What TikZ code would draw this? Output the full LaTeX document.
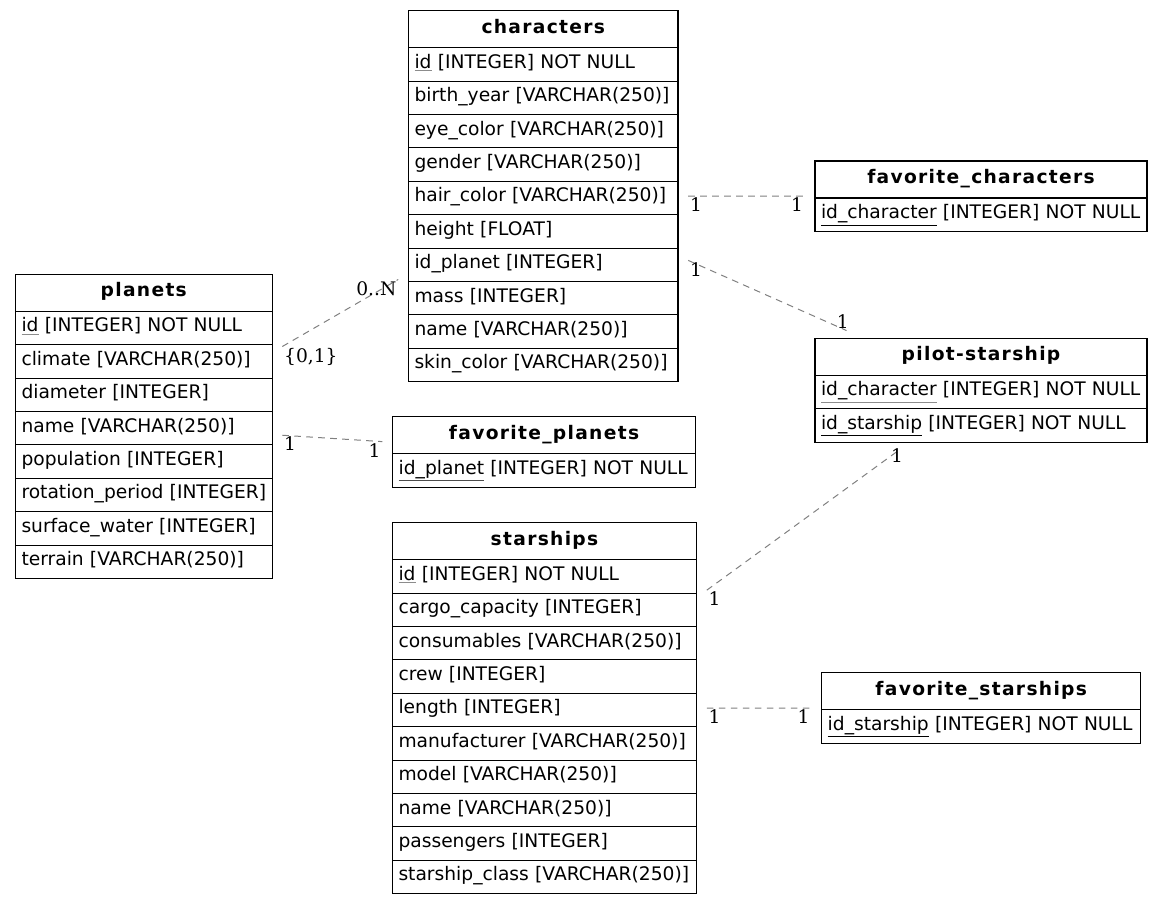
\documentclass[tikz,border=0pt]{standalone}
\usepackage{fontspec}
\setmainfont{DejaVu Sans}
\newfontfamily\headfont[LetterSpace=7]{DejaVu Sans}
\newfontfamily\cardfont{DejaVu Serif}
\usetikzlibrary{positioning,fit}
\definecolor{relgray}{rgb}{0.50,0.50,0.50}
\newcommand{\pkey}[2][black!45]{{\color{#1}\underline{\color{black}#2}}}
\tikzset{
  thead/.style={draw, line width=0.8pt, outer sep=0pt, inner xsep=4.5pt, inner ysep=0pt,
                text width=#1, align=center, minimum height=27.75pt,
                text height=10.5pt, text depth=4.3pt, font=\headfont\fontsize{14}{17}\selectfont\bfseries},
  trow/.style={draw, line width=0.8pt, outer sep=0pt, inner xsep=4.5pt, inner ysep=0pt,
               text width=#1, align=left, minimum height=25.05pt,
               text height=10.5pt, text depth=4.6pt, font=\fontsize{14}{17}\selectfont},
  tblfit/.style={inner xsep=7.5pt, inner ysep=5.6pt},
  rel/.style={draw=relgray, line width=0.75pt, dash pattern=on 5pt off 4pt},
  card/.style={font=\cardfont\fontsize{14}{17}\selectfont, inner sep=1pt},
}

\begin{document}
\begin{tikzpicture}[x=0.75pt, y=-0.75pt]
  \useasboundingbox (0,0) rectangle (1163,904);
  % characters
  \node[thead=193.1pt, anchor=north west] (chr-h) at (408.5,10.7) {characters};
  \node[trow=193.1pt, below=0pt of chr-h] (chr-1) {\pkey{id} [INTEGER] NOT NULL};
  \node[trow=193.1pt, below=0pt of chr-1] (chr-2) {birth\_year [VARCHAR(250)]};
  \node[trow=193.1pt, below=0pt of chr-2] (chr-3) {eye\_color [VARCHAR(250)]};
  \node[trow=193.1pt, below=0pt of chr-3] (chr-4) {gender [VARCHAR(250)]};
  \node[trow=193.1pt, below=0pt of chr-4] (chr-5) {hair\_color [VARCHAR(250)]};
  \node[trow=193.1pt, below=0pt of chr-5] (chr-6) {height [FLOAT]};
  \node[trow=193.1pt, below=0pt of chr-6] (chr-7) {id\_planet [INTEGER]};
  \node[trow=193.1pt, below=0pt of chr-7] (chr-8) {mass [INTEGER]};
  \node[trow=193.1pt, below=0pt of chr-8] (chr-9) {name [VARCHAR(250)]};
  \node[trow=193.1pt, below=0pt of chr-9] (chr-10) {skin\_color [VARCHAR(250)]};
  \node[tblfit, fit=(chr-h)(chr-10)] (characters) {};
  % planets
  \node[thead=183.4pt, anchor=north west] (pln-h) at (15.5,274.3) {planets};
  \node[trow=183.4pt, below=0pt of pln-h] (pln-1) {\pkey{id} [INTEGER] NOT NULL};
  \node[trow=183.4pt, below=0pt of pln-1] (pln-2) {climate [VARCHAR(250)]};
  \node[trow=183.4pt, below=0pt of pln-2] (pln-3) {diameter [INTEGER]};
  \node[trow=183.4pt, below=0pt of pln-3] (pln-4) {name [VARCHAR(250)]};
  \node[trow=183.4pt, below=0pt of pln-4] (pln-5) {population [INTEGER]};
  \node[trow=183.4pt, below=0pt of pln-5] (pln-6) {\mbox{rotation\_period [INTEGER]}};
  \node[trow=183.4pt, below=0pt of pln-6] (pln-7) {surface\_water [INTEGER]};
  \node[trow=183.4pt, below=0pt of pln-7] (pln-8) {terrain [VARCHAR(250)]};
  \node[tblfit, fit=(pln-h)(pln-8)] (planets) {};
  % favorite_characters
  \node[thead=240pt, anchor=north west] (fch-h) at (815,161) {favorite\_characters};
  \node[trow=240pt, below=0pt of fch-h] (fch-1) {\pkey[black]{id\_character} [INTEGER] NOT NULL};
  \node[tblfit, fit=(fch-h)(fch-1)] (favchars) {};
  % pilot-starship
  \node[thead=240pt, anchor=north west] (pil-h) at (815,338.3) {pilot-starship};
  \node[trow=240pt, below=0pt of pil-h] (pil-1) {\pkey{id\_character} [INTEGER] NOT NULL};
  \node[trow=240pt, below=0pt of pil-1] (pil-2) {\pkey[black]{id\_starship} [INTEGER] NOT NULL};
  \node[tblfit, fit=(pil-h)(pil-2)] (pilot) {};
  % favorite_planets
  \node[thead=218pt, anchor=north west] (fpl-h) at (392.7,416.7) {favorite\_planets};
  \node[trow=218pt, below=0pt of fpl-h] (fpl-1) {\pkey[black!70]{id\_planet} [INTEGER] NOT NULL};
  \node[tblfit, fit=(fpl-h)(fpl-1)] (favplanets) {};
  % starships
  \node[thead=219pt, anchor=north west] (shp-h) at (392.5,522.7) {starships};
  \node[trow=219pt, below=0pt of shp-h] (shp-1) {\pkey{id} [INTEGER] NOT NULL};
  \node[trow=219pt, below=0pt of shp-1] (shp-2) {cargo\_capacity [INTEGER]};
  \node[trow=219pt, below=0pt of shp-2] (shp-3) {consumables [VARCHAR(250)]};
  \node[trow=219pt, below=0pt of shp-3] (shp-4) {crew [INTEGER]};
  \node[trow=219pt, below=0pt of shp-4] (shp-5) {length [INTEGER]};
  \node[trow=219pt, below=0pt of shp-5] (shp-6) {manufacturer [VARCHAR(250)]};
  \node[trow=219pt, below=0pt of shp-6] (shp-7) {model [VARCHAR(250)]};
  \node[trow=219pt, below=0pt of shp-7] (shp-8) {name [VARCHAR(250)]};
  \node[trow=219pt, below=0pt of shp-8] (shp-9) {passengers [INTEGER]};
  \node[trow=219pt, below=0pt of shp-9] (shp-10) {starship\_class [VARCHAR(250)]};
  \node[tblfit, fit=(shp-h)(shp-10)] (starships) {};
  % favorite_starships
  \node[thead=230.3pt, anchor=north west] (fsh-h) at (821.7,672.7) {favorite\_starships};
  \node[trow=230.3pt, below=0pt of fsh-h] (fsh-1) {\pkey[black]{id\_starship} [INTEGER] NOT NULL};
  \node[tblfit, fit=(fsh-h)(fsh-1)] (favstarships) {};
  % relations
  \draw[rel] (planets) -- (characters)
    node[card, pos=0, anchor=north west] {\{0,1\}} node[card, pos=1, anchor=north east] {0..N};
  \draw[rel] (characters) -- (favchars)
    node[card, pos=0, anchor=north west] {1} node[card, pos=1, anchor=north east] {1};
  \draw[rel] (characters) -- (pilot)
    node[card, pos=0, anchor=north west] {1} node[card, pos=1, anchor=south east, xshift=3pt] {1};
  \draw[rel] (planets) -- (favplanets)
    node[card, pos=0, anchor=north west] {1} node[card, pos=1, anchor=north east] {1};
  \draw[rel] (starships) -- (pilot)
    node[card, pos=0, anchor=north west] {1} node[card, pos=1, anchor=north east, xshift=4pt, yshift=2pt] {1};
  \draw[rel] (starships) -- (favstarships)
    node[card, pos=0, anchor=north west] {1} node[card, pos=1, anchor=north east] {1};
\end{tikzpicture}
\end{document}
